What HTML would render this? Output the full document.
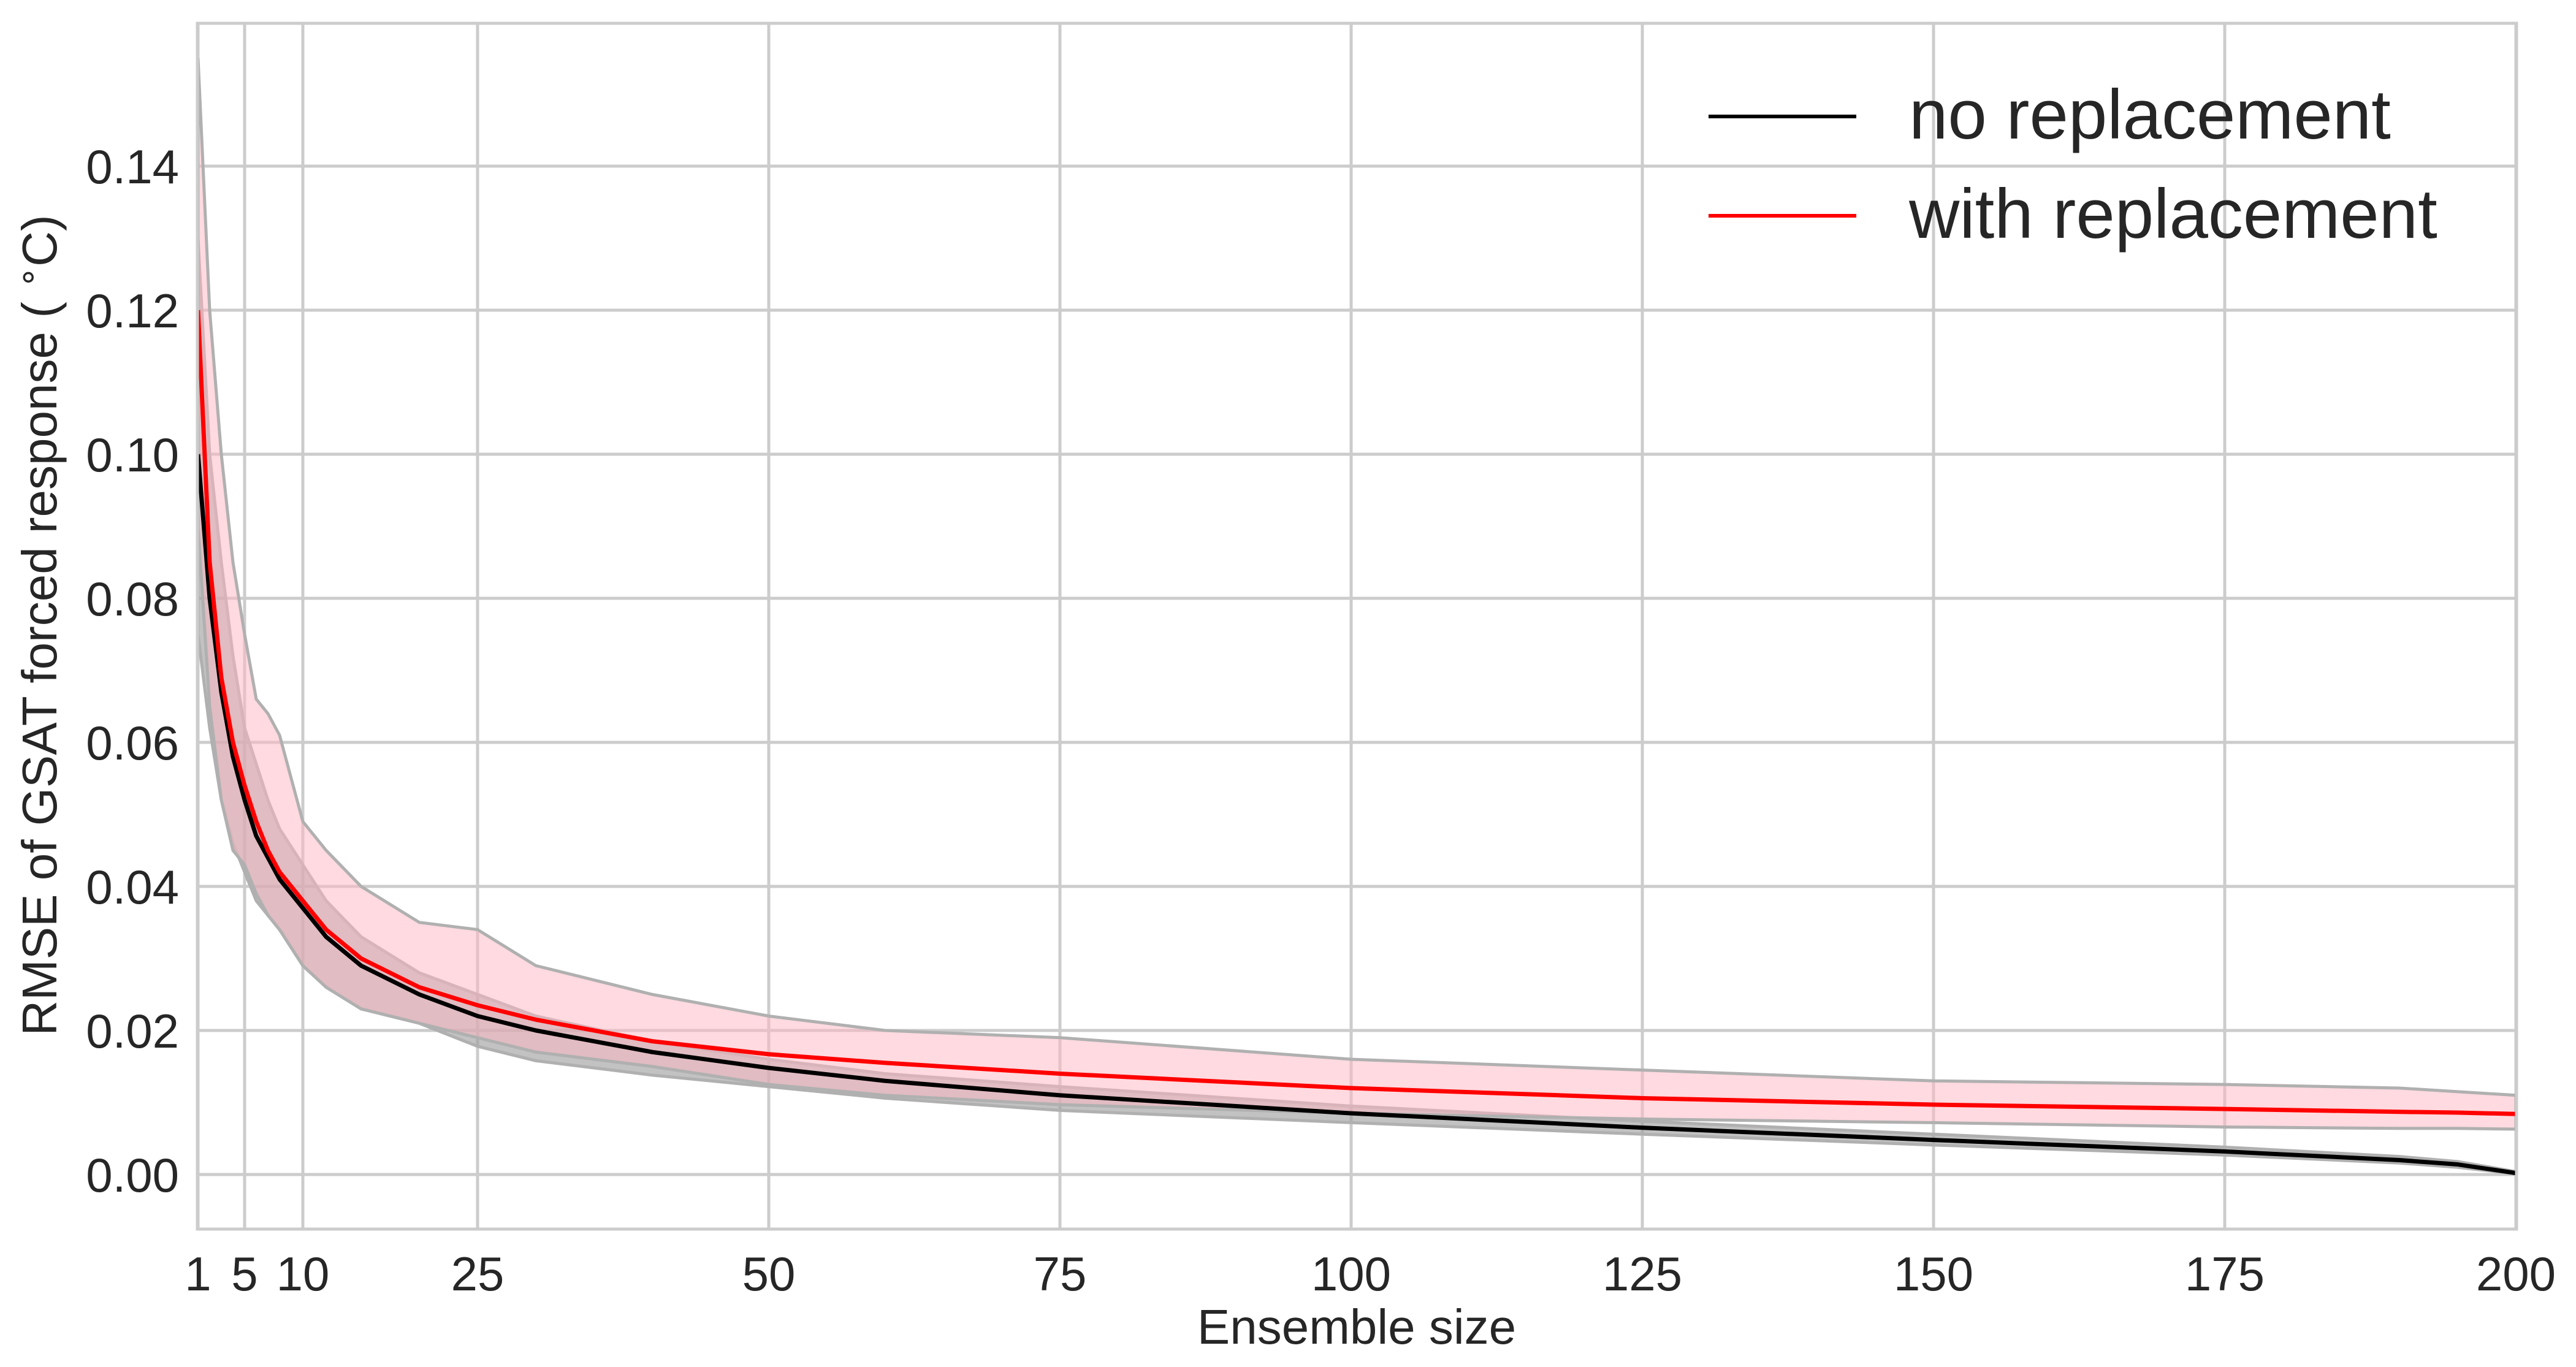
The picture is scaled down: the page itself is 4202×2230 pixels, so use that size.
<!DOCTYPE html>
<html><head><meta charset="utf-8"><style>
body{margin:0;background:#fff}
svg{display:block}
text{font-family:"Liberation Sans",sans-serif;fill:#262626}
</style></head><body>
<svg id="chart" width="4202" height="2230" viewBox="0 0 4202 2230">
<g id="grid"></g>
<g id="bands"></g>
<g id="lines"></g>
<rect x="322" y="38" width="3783" height="1967" fill="none" stroke="#cccccc" stroke-width="5"/>
<g id="ticks"></g>
<text x="2213" y="2192" font-size="80" text-anchor="middle">Ensemble size</text>
<text transform="translate(92,1020) rotate(-90)" font-size="80" text-anchor="middle">RMSE of GSAT forced response ( <tspan font-size="56" dy="-28">∘</tspan><tspan dy="28">C)</tspan></text>
<g>
<line x1="2787" y1="190" x2="3028" y2="190" stroke="#000" stroke-width="6"/>
<text x="3114" y="226" font-size="114">no replacement</text>
<line x1="2787" y1="352" x2="3028" y2="352" stroke="#ff0000" stroke-width="6"/>
<text x="3114" y="388" font-size="114">with replacement</text>
</g>
</svg>
<script>
const sizes=[1,2,3,4,5,6,7,8,10,12,15,20,25,30,40,50,60,75,100,125,150,175,190,195,200];
const redMean=[0.12,0.085,0.069,0.060,0.054,0.049,0.045,0.042,0.038,0.034,0.030,0.026,0.0235,0.0215,0.0185,0.0167,0.0155,0.014,0.012,0.0106,0.0097,0.0091,0.0087,0.0086,0.0084];
const redUpper=[0.155,0.12,0.10,0.085,0.075,0.066,0.064,0.061,0.049,0.045,0.040,0.035,0.034,0.029,0.025,0.022,0.020,0.019,0.016,0.0145,0.013,0.0125,0.012,0.0115,0.011];
const redLower=[0.09,0.065,0.052,0.045,0.043,0.039,0.036,0.034,0.029,0.026,0.023,0.021,0.019,0.017,0.015,0.0125,0.011,0.0097,0.0085,0.0077,0.0072,0.0066,0.0064,0.0064,0.0063];
const blackMean=[0.10,0.08,0.067,0.058,0.052,0.047,0.044,0.041,0.037,0.033,0.029,0.025,0.022,0.020,0.017,0.0148,0.013,0.011,0.0085,0.0065,0.0048,0.0032,0.002,0.0014,0.0002];
const blackUpper=[0.13,0.10,0.085,0.072,0.062,0.057,0.052,0.048,0.043,0.038,0.033,0.028,0.025,0.022,0.0185,0.016,0.014,0.0122,0.0095,0.0074,0.0056,0.0038,0.0025,0.0018,0.0004];
const blackLower=[0.075,0.062,0.052,0.046,0.042,0.038,0.036,0.034,0.029,0.026,0.023,0.021,0.0178,0.0158,0.0138,0.0122,0.0106,0.0089,0.0072,0.0056,0.0041,0.0027,0.0016,0.001,0.0001];
const xTicks=[1,5,10,25,50,75,100,125,150,175,200];
const yTicks=[0,0.02,0.04,0.06,0.08,0.10,0.12,0.14];
const yTickLabels=["0.00","0.02","0.04","0.06","0.08","0.10","0.12","0.14"];

const NS="http://www.w3.org/2000/svg";
const X=v=>323+(v-1)*(4104-323)/199;
const Y=v=>1916-v*(235/0.02);
function mk(tag,attrs,parent){const e=document.createElementNS(NS,tag);for(const k in attrs)e.setAttribute(k,attrs[k]);document.getElementById(parent).appendChild(e);return e;}
xTicks.forEach((t,i)=>{
  const g=mk('line',{x1:X(t),x2:X(t),y1:38,y2:2005,stroke:'#cccccc','stroke-width':5},'grid');
  
  
  const l=mk('text',{x:X(t),y:2105,'font-size':78,'text-anchor':'middle'},'ticks');l.textContent=t;
  
  
});
yTicks.forEach((t,i)=>{
  const g=mk('line',{x1:322,x2:4105,y1:Y(t),y2:Y(t),stroke:'#cccccc','stroke-width':5},'grid');
  
  
  const l=mk('text',{x:292,y:Y(t)+28,'font-size':78,'text-anchor':'end'},'ticks');l.textContent=yTickLabels[i];
  
  
});
function band(up,lo,fill,op){
  let d='M'+sizes.map((s,i)=>X(s)+','+Y(up[i])).join('L');
  d+='L'+sizes.slice().reverse().map((s,j)=>{const i=sizes.length-1-j;return X(s)+','+Y(lo[i]);}).join('L')+'Z';
  return mk('path',{d:d,fill:fill,'fill-opacity':op,stroke:'#b0b0b0','stroke-width':5},'bands');
}
const bb=band(blackUpper,blackLower,'#999999',0.6);


const rb=band(redUpper,redLower,'#ffb6c1',0.5);


function line(v,c){return mk('polyline',{points:sizes.map((s,i)=>X(s)+','+Y(v[i])).join(' '),fill:'none',stroke:c,'stroke-width':7,'stroke-linejoin':'round'},'lines');}
const bl=line(blackMean,'#000000');


const rl=line(redMean,'#ff0000');


</script>
</body></html>
